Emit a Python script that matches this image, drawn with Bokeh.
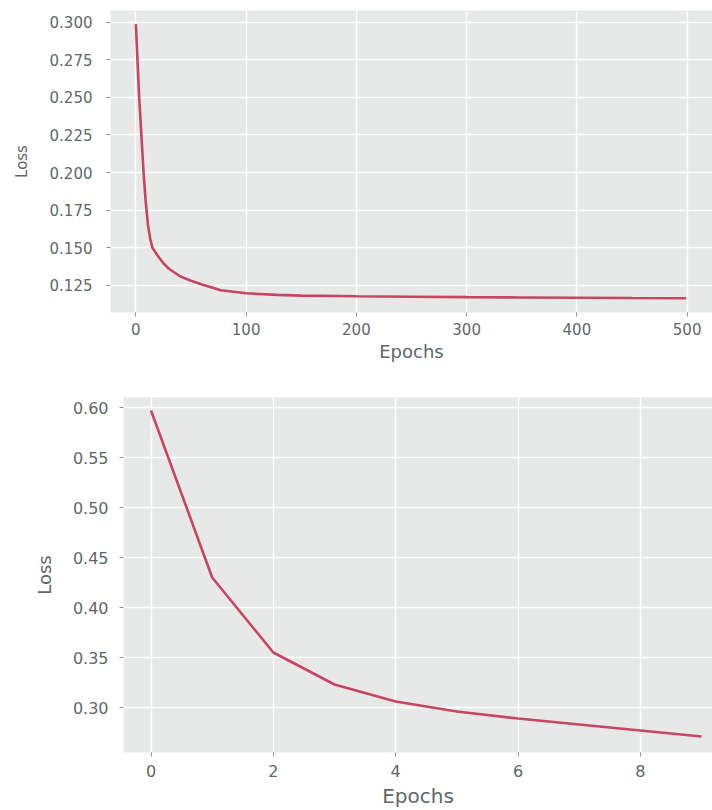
from bokeh.plotting import figure
from bokeh.layouts import column, row
from bokeh.models import Range1d, FixedTicker, PrintfTickFormatter
from bokeh.embed import file_html
from bokeh.resources import INLINE

# ---- data ----
epochs_a = [0, 3, 7, 9, 11, 13, 15, 20, 25, 30, 40, 50, 60, 77, 100, 128, 150,
            200, 250, 300, 350, 400, 450, 499]
loss_a = [0.2987, 0.250, 0.200, 0.180, 0.165, 0.156, 0.150, 0.1445, 0.1396, 0.136,
          0.131, 0.128, 0.1255, 0.1217, 0.1197, 0.1186, 0.1181, 0.1177, 0.1174,
          0.1171, 0.1169, 0.1167, 0.1165, 0.1164]
ticks_a_x = [0, 100, 200, 300, 400, 500]
ticks_a_y = [0.125, 0.150, 0.175, 0.200, 0.225, 0.250, 0.275, 0.300]

epochs_b = [0, 1, 2, 3, 4, 5, 6, 7, 8, 9]
loss_b = [0.597, 0.430, 0.355, 0.323, 0.306, 0.296, 0.289, 0.283, 0.277, 0.271]
ticks_b_x = [0, 2, 4, 6, 8]
ticks_b_y = [0.30, 0.35, 0.40, 0.45, 0.50, 0.55, 0.60]

FONT = "DejaVu Sans"
TXT = "#5E6868"
BG = "#E7E9E9"
LINE = "#C9445E"


def style(p, xtick_size, ytick_size, xlab_size, ylab_size, fmt, xt, yt):
    p.background_fill_color = BG
    p.border_fill_color = "white"
    p.outline_line_color = None
    for g in (p.xgrid, p.ygrid):
        g.grid_line_color = "white"
        g.grid_line_width = 1.4
    for ax in (p.xaxis, p.yaxis):
        ax.axis_line_color = None
        ax.minor_tick_line_color = None
        ax.major_tick_line_color = "#8A9494"
        ax.major_tick_in = 0
        ax.major_tick_out = 4
        ax.major_label_text_font = FONT
        ax.major_label_text_color = TXT
        ax.axis_label_text_font = FONT
        ax.axis_label_text_color = TXT
        ax.axis_label_text_font_style = "normal"
    p.xaxis.major_label_text_font_size = xtick_size
    p.yaxis.major_label_text_font_size = ytick_size
    p.xaxis.axis_label_text_font_size = xlab_size
    p.yaxis.axis_label_text_font_size = ylab_size
    p.xaxis.ticker = FixedTicker(ticks=xt)
    p.yaxis.ticker = FixedTicker(ticks=yt)
    p.yaxis.formatter = PrintfTickFormatter(format=fmt)
    p.xaxis.axis_label = "Epochs"
    p.yaxis.axis_label = "Loss"


# ---- top figure ----
p1 = figure(width=712, height=385, output_backend="svg", toolbar_location=None,
            x_range=Range1d(-23, 523), y_range=Range1d(0.1069, 0.3078),
            min_border_left=110, min_border_right=0, min_border_top=10,
            min_border_bottom=73)
style(p1, "15px", "15px", "18px", "15px", "%.3f", ticks_a_x, ticks_a_y)
p1.yaxis.major_label_standoff = 14
p1.yaxis.axis_label_standoff = 16
p1.xaxis.major_label_standoff = 6
p1.xaxis.axis_label_standoff = 3
p1.line(epochs_a, loss_a, line_color=LINE, line_width=2.6)

# ---- bottom figure ----
p2 = figure(width=712, height=425, output_backend="svg", toolbar_location=None,
            x_range=Range1d(-0.45, 9.18), y_range=Range1d(0.255, 0.610),
            min_border_left=123, min_border_right=0, min_border_top=12,
            min_border_bottom=58)
style(p2, "16px", "16px", "20px", "18px", "%.2f", ticks_b_x, ticks_b_y)
p2.yaxis.major_label_standoff = 11
p2.yaxis.axis_label_standoff = 15
p2.xaxis.major_label_standoff = 8
p2.xaxis.axis_label_standoff = 4
p2.line(epochs_b, loss_b, line_color=LINE, line_width=2.6)

layout = column(row(p1), row(p2))
open("out.html", "w").write(file_html(layout, INLINE))
